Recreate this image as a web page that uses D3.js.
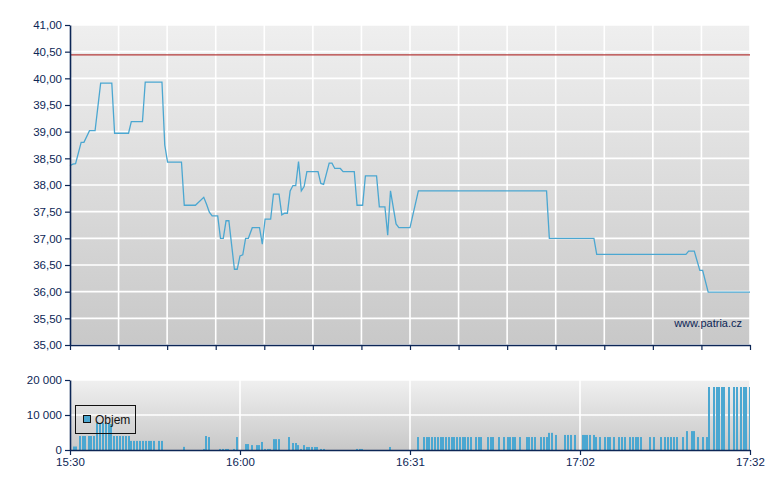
<!DOCTYPE html>
<html><head><meta charset="utf-8">
<script src="https://cdn.jsdelivr.net/npm/d3@7"></script>
<style>body{margin:0;background:#fff;} svg{display:block;font-family:"Liberation Sans",Arial,sans-serif;}</style>
</head><body><svg id="c" width="780" height="490"></svg>
<script>
// minutes after 15:30
const priceTime = [0,0.5,1,2,2.5,3.5,4.5,5.5,7.5,8,10.5,11,13,13.5,16.5,17,17.5,20,20.5,22.5,24,24.5,25,25.5,26.5,27,27.5,28,28.5,29.5,30,30.5,31,31.5,32,32.7,34,34.5,35,36,36.5,37.5,38,38.5,39,39.5,40,40.5,41,41.5,42,42.5,44.5,45,45.5,46.5,47,47.5,48.5,49,51,51.5,52.5,53,55,55.5,56.5,57,57.5,58.5,59,61,62.5,85.5,86,94,94.5,110.5,111,112,113,113.5,114.5,122];
const priceValue = [38.36,38.39,38.40,38.80,38.80,39.02,39.02,39.91,39.91,38.97,38.97,39.19,39.19,39.93,39.93,38.75,38.43,38.43,37.62,37.62,37.77,37.64,37.49,37.42,37.42,37.00,37.00,37.33,37.33,36.42,36.42,36.67,36.69,37.00,37.00,37.20,37.20,36.89,37.36,37.36,37.83,37.83,37.44,37.47,37.47,37.89,37.99,37.99,38.44,37.89,37.97,38.25,38.25,38.03,38.01,38.41,38.41,38.31,38.31,38.25,38.25,37.62,37.62,38.17,38.17,37.59,37.59,37.06,37.89,37.27,37.20,37.20,37.89,37.89,37.00,37.00,36.70,36.70,36.76,36.76,36.40,36.40,35.99,35.99];
const volumeTime = [0.5,0.9,1.6,2.2,2.5,3.2,3.6,4.1,4.7,5.2,5.7,6.3,6.8,7.2,7.7,8.3,8.8,9.3,9.9,10.4,10.8,11.3,11.8,12.4,12.9,13.5,14.0,14.4,14.9,15.8,16.3,20.3,23.9,24.2,24.8,26.7,27.3,27.8,28.2,29.2,29.8,31.4,31.8,32.5,33.4,33.7,34.3,34.8,35.3,35.7,36.4,36.8,37.3,39.1,39.8,40.4,40.7,41.3,41.8,42.3,42.7,43.2,43.8,44.1,44.9,45.4,51.3,51.9,52.2,57.2,
62.3,63.3,63.9,64.2,64.8,65.3,65.8,66.4,66.7,67.3,67.8,68.4,68.7,69.3,69.8,70.3,70.7,71.2,71.8,72.7,73.2,73.6,74.8,75.4,75.7,76.8,77.7,78.4,78.8,79.3,79.7,80.6,81.8,82.2,82.7,83.3,84.3,84.9,85.4,
85.8,86.3,87.0,88.6,89.2,89.7,90.4,91.9,92.2,92.6,93.1,93.8,
94.2,94.9,95.8,96.3,96.7,97.4,98.3,98.9,99.4,100.3,100.8,101.4,101.7,102.3,103.9,104.6,105.9,106.6,107.1,107.7,108.2,108.7,109.8,
110.5,111.4,111.8,112.5,113.4,114.1,
114.5,115.4,115.9,116.3,116.8,117.2,118.1,119.0,119.5,120.2,120.8,121.1,121.8];
const volumeValue = [1000,1000,4000,4000,4000,4000,4000,4000,7700,7700,7700,7600,7600,7400,4000,4000,4000,4000,4000,4000,2600,2600,2600,2600,2600,2600,2600,2600,2600,2600,2600,900,300,4000,3700,300,300,300,300,300,3700,1700,1700,1400,1400,1400,2300,300,300,300,3100,3100,3100,3700,2000,2000,1400,300,1400,860,860,860,860,860,300,300,300,300,300,860,
3700,3700,3700,3700,3700,3700,3700,3700,3700,3700,3700,3700,3700,3700,3700,3700,3700,3700,3700,3700,3700,3700,3700,3700,3700,3700,3700,3700,3700,3700,3700,3700,3700,3700,3700,3700,3700,3700,3700,
4900,4900,4300,4300,4300,4300,4300,4300,4300,4300,4300,4300,
3700,3700,3700,3700,3700,3700,3700,3700,3700,3700,3700,3700,3700,3700,3700,3700,3700,3700,3700,3700,3700,3700,3700,
5400,5400,5400,3700,3700,3700,
18000,18000,18000,18000,18000,18000,18000,18000,18000,18000,18000,18000,18000];
const priceTicks = [35,35.5,36,36.5,37,37.5,38,38.5,39,39.5,40,40.5,41];
const volumeTicks = [0,10000,20000];
const timeLabels = ["15:30","16:00","16:31","17:02","17:32"];
const sessionMinutes = 122;
const priceGridCount = 14;
const referencePrice = 40.44;
const legendLabel = "Objem";
const watermark = "www.patria.cz";

const L=70, R=750, pT=25, pB=345, vT=380, vB=450;
const navy = "#0c2656", blue = "#4ba7d1";
const svg = d3.select("#c");
const x = d3.scaleLinear().domain([0,sessionMinutes]).range([L,R]);
const yP = d3.scaleLinear().domain([35,41]).range([pB,pT]);
const yV = d3.scaleLinear().domain([0,20000]).range([vB,vT]);
const loc = d3.formatLocale({decimal:",", thousands:" ", grouping:[3], currency:["",""]});
const fP = loc.format(".2f"), fV = loc.format(",d");

const defs = svg.append("defs");
function grad(id, c1, c2){
  const g = defs.append("linearGradient").attr("id",id).attr("x1",0).attr("y1",0).attr("x2",0).attr("y2",1);
  g.append("stop").attr("offset",0).attr("stop-color",c1);
  g.append("stop").attr("offset",1).attr("stop-color",c2);
}
grad("gP","#efefef","#c8c8c8");
grad("gV","#f0f0f0","#c8c8c8");
defs.append("clipPath").attr("id","clipV").append("rect").attr("x",L).attr("y",vT).attr("width",R-L).attr("height",vB-vT);

// panels
svg.append("rect").attr("x",L).attr("y",pT).attr("width",R-L).attr("height",pB-pT).attr("fill","url(#gP)");
svg.append("rect").attr("x",L).attr("y",vT).attr("width",R-L).attr("height",vB-vT).attr("fill","url(#gV)");

// price grid
const topTicks = d3.range(priceGridCount+1).map(i=>i*sessionMinutes/priceGridCount);
const gGrid = svg.append("g").attr("stroke","#fff").attr("stroke-width",1.6);
gGrid.selectAll(".hp").data(priceTicks).join("line")
  .attr("x1",L).attr("x2",R).attr("y1",d=>yP(d)).attr("y2",d=>yP(d));
gGrid.selectAll(".vp").data(topTicks.slice(1)).join("line")
  .attr("x1",d=>x(d)).attr("x2",d=>x(d)).attr("y1",pT).attr("y2",pB);
// volume grid
const botTicks = d3.range(timeLabels.length).map(i=>i*sessionMinutes/(timeLabels.length-1));
const gGrid2 = svg.append("g").attr("stroke","#fff").attr("stroke-width",1.6);
gGrid2.selectAll("line.h").data(volumeTicks.slice(1)).join("line")
  .attr("x1",L).attr("x2",R).attr("y1",d=>yV(d)).attr("y2",d=>yV(d));
gGrid2.selectAll("line.v").data(botTicks.slice(1)).join("line")
  .attr("x1",d=>x(d)).attr("x2",d=>x(d)).attr("y1",vT).attr("y2",vB);

// reference line
svg.append("line").attr("x1",L).attr("x2",R).attr("y1",yP(referencePrice)).attr("y2",yP(referencePrice))
  .attr("stroke","#b53a3a").attr("stroke-width",1.3);

// price line
const pts = priceTime.map((t,i)=>({t, v:priceValue[i]}));
svg.append("path").datum(pts).attr("fill","none").attr("stroke",blue).attr("stroke-width",1.3)
  .attr("d", d3.line().x(d=>x(d.t)).y(d=>yP(d.v)));

// volume bars
const bars = volumeTime.map((t,i)=>({t, v:volumeValue[i]}));
svg.append("g").attr("clip-path","url(#clipV)").selectAll("rect").data(bars).join("rect")
  .attr("x",d=>Math.round(x(d.t))).attr("width",2)
  .attr("y",d=>yV(d.v)).attr("height",d=>vB-yV(d.v)).attr("fill",blue);

// watermark
svg.append("text").attr("x",742).attr("y",327).attr("text-anchor","end")
  .attr("font-size",11).attr("fill",navy).text(watermark);

// axes
function style(g){
  g.select(".domain").attr("stroke",navy).attr("stroke-width",1.6);
  g.selectAll(".tick line").attr("stroke",navy).attr("stroke-width",1.2);
  g.selectAll(".tick text").attr("fill",navy).attr("font-size",11.5).attr("font-family",'"Liberation Sans",Arial,sans-serif');
}
svg.append("g").attr("transform",`translate(${L},0)`)
  .call(d3.axisLeft(yP).tickValues(priceTicks).tickFormat(fP).tickSize(5).tickSizeOuter(0).tickPadding(3)).call(style);
svg.append("g").attr("transform",`translate(0,${pB})`)
  .call(d3.axisBottom(x).tickValues(topTicks).tickFormat("").tickSize(5).tickSizeOuter(0)).call(style);
svg.append("g").attr("transform",`translate(${L},0)`)
  .call(d3.axisLeft(yV).tickValues(volumeTicks).tickFormat(fV).tickSize(5).tickSizeOuter(0).tickPadding(3)).call(style);
svg.append("g").attr("transform",`translate(0,${vB})`)
  .call(d3.axisBottom(x).tickValues(botTicks).tickFormat((d,i)=>timeLabels[i]).tickSize(5).tickSizeOuter(0).tickPadding(3)).call(style);

// legend
const lg = svg.append("g");
lg.append("rect").attr("x",75.5).attr("y",405.5).attr("width",60).attr("height",28).attr("fill","none").attr("stroke","#111").attr("stroke-width",1);
lg.append("rect").attr("x",83.5).attr("y",415.5).attr("width",7).attr("height",7).attr("fill",blue).attr("stroke","#111").attr("stroke-width",1);
lg.append("text").attr("x",95).attr("y",423.5).attr("font-size",12).attr("fill","#111").text(legendLabel);
</script></body></html>
